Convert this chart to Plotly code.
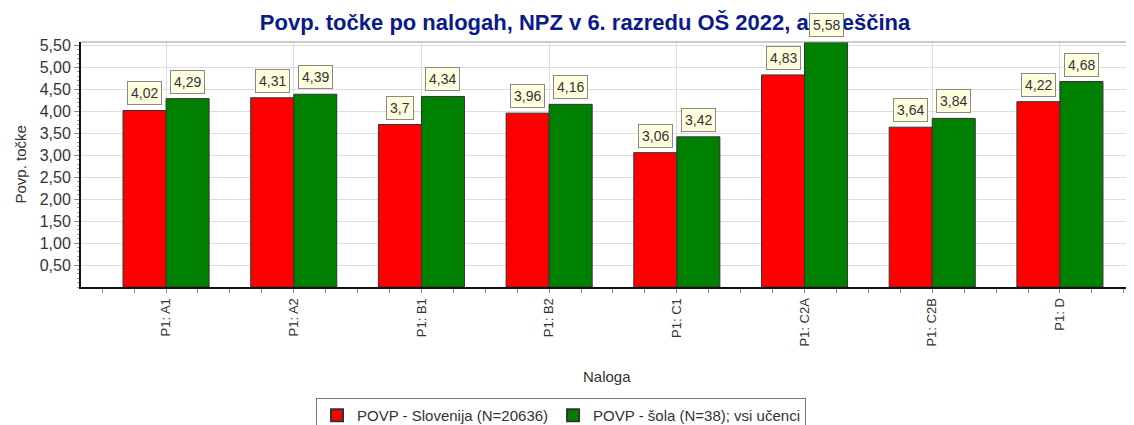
import plotly.graph_objects as go

categories = ["P1: A1", "P1: A2", "P1: B1", "P1: B2", "P1: C1", "P1: C2A", "P1: C2B", "P1: D"]
slovenija = [4.02, 4.31, 3.70, 3.96, 3.06, 4.83, 3.64, 4.22]
sola = [4.29, 4.39, 4.34, 4.16, 3.42, 5.58, 3.84, 4.68]
series_names = ["POVP - Slovenija (N=20636)", "POVP - šola (N=38); vsi učenci"]
series_colors = ["#FF0000", "#008000"]
y_ticks = [0.5, 1.0, 1.5, 2.0, 2.5, 3.0, 3.5, 4.0, 4.5, 5.0, 5.5]

FONT = "Liberation Sans, Arial, sans-serif"
bargap = 0.326
idx = list(range(len(categories)))

# page body has an 8px margin: figure is placed at (8, 8); bottom is cut like the reference
W, H = 1126, 435
ML, MT = 73, 34
PLOT_BOTTOM = 287 - 8
MB = H - PLOT_BOTTOM
PH = H - MT - MB  # plot height

fig = go.Figure()
for name, vals, col in zip(series_names, [slovenija, sola], series_colors):
    fig.add_trace(go.Bar(
        x=idx, y=vals, name=name,
        marker=dict(color=col, line=dict(color="#333333", width=1)),
        hoverinfo="x+y",
    ))

def fmt(v):
    s = f"{v:.2f}".rstrip("0").rstrip(".")
    return s.replace(".", ",")

half = (1 - bargap) / 4
annotations = []
for k, vals in enumerate([slovenija, sola]):
    off = -half if k == 0 else half
    for i, v in enumerate(vals):
        annotations.append(dict(
            x=i + off, y=v, xref="x", yref="y", text=fmt(v),
            showarrow=False, yanchor="bottom", yshift=5,
            font=dict(family=FONT, size=14, color="#333333"),
            bgcolor="#FFFFE0", bordercolor="#8A8A80", borderwidth=1, borderpad=3,
        ))

annotations.append(dict(
    text="Naloga", x=(607 - 8 - ML) / (W - ML), xref="paper", xanchor="center",
    y=(PH - (376 - 8 - MT)) / PH, yref="paper", yanchor="middle",
    showarrow=False, font=dict(family=FONT, size=15, color="#333333"),
))
annotations.append(dict(
    text="Povp. točke", xref="paper", yref="paper", x=(20 - 8 - ML) / (W - ML), xanchor="center",
    y=0.5, yanchor="middle",
    textangle=-90, showarrow=False, font=dict(family=FONT, size=15, color="#333333"),
))

fig.update_layout(
    width=W, height=H,
    margin=dict(l=ML, r=0, t=MT, b=MB),
    paper_bgcolor="white", plot_bgcolor="white",
    barmode="group", bargap=bargap, bargroupgap=0,
    separators=",.",
    font=dict(family=FONT, size=14, color="#333333"),
    title=dict(
        text="<b>Povp. točke po nalogah, NPZ v 6. razredu OŠ 2022, angleščina</b>",
        x=577 / W, xanchor="center", y=1 - 14 / H, yanchor="middle",
        font=dict(family=FONT, size=22, color="#0A1A8C"),
    ),
    xaxis=dict(
        range=[-0.666, 7.58],
        tickmode="array", tickvals=idx, ticktext=categories, tickangle=-90,
        tickfont=dict(family=FONT, size=13, color="#333333"),
        ticks="outside", ticklen=4, tickcolor="#888888",
        showgrid=True, gridcolor="#DDDDDD", gridwidth=1,
        showline=True, linecolor="#111111", linewidth=2,
        minor=dict(dtick=0.25, tick0=0, ticks="outside", ticklen=4, tickcolor="#888888", showgrid=False),
        zeroline=False, fixedrange=True, automargin=False,
    ),
    yaxis=dict(
        range=[0, 5.58],
        tickmode="array", tickvals=y_ticks, tickformat=".2f",
        tickfont=dict(family=FONT, size=16, color="#333333"),
        ticks="outside", ticklen=5, tickcolor="#888888",
        showgrid=True, gridcolor="#DDDDDD", gridwidth=1,
        showline=True, linecolor="#111111", linewidth=2,
        minor=dict(dtick=0.1, ticks="outside", ticklen=2, tickcolor="#999999", showgrid=False),
        zeroline=False, fixedrange=True, automargin=False,
    ),
    legend=dict(
        orientation="h", x=(561 - 8 - ML) / (W - ML), xanchor="center",
        y=(PH - (398 - 8 - MT)) / PH, yanchor="top",
        bordercolor="#777777", borderwidth=1, bgcolor="white",
        font=dict(family=FONT, size=15, color="#333333"),
        itemsizing="constant", traceorder="normal",
    ),
    annotations=annotations,
    shapes=[dict(type="line", xref="paper", yref="paper", x0=0, x1=1, y0=1, y1=1,
                 line=dict(color="#999999", width=1))],
    showlegend=True,
)

fig.write_html("out.html")
